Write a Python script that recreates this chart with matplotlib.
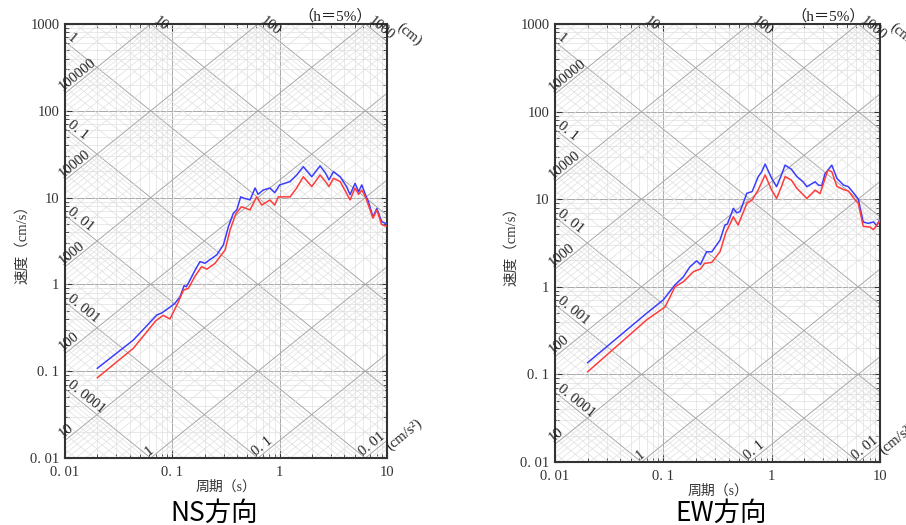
import numpy as np
import matplotlib.pyplot as plt

# NS方向: 周期 (s) / 速度 (cm/s)
ns_blue_T = [0.02, 0.0434, 0.0716, 0.08, 0.0918, 0.105, 0.118, 0.1285, 0.135, 0.145,
             0.157, 0.17, 0.181, 0.2017, 0.22, 0.241, 0.26, 0.299, 0.333, 0.37,
             0.398, 0.434, 0.47, 0.53, 0.59, 0.63, 0.70, 0.81, 0.90, 1.0,
             1.25, 1.44, 1.66, 1.99, 2.38, 2.68, 2.88, 3.17, 3.66, 4.2,
             4.53, 5.04, 5.44, 5.82, 6.3, 6.7, 7.4, 8.06, 8.9, 9.8, 10]
ns_blue_sv = [0.108, 0.229, 0.443, 0.47, 0.53, 0.6, 0.72, 0.966, 0.94, 1.1,
              1.34, 1.6, 1.83, 1.75, 1.9, 2.05, 2.2, 2.85, 4.63, 6.6,
              7.2, 10.2, 9.8, 9.4, 12.9, 10.9, 12.2, 12.9, 11.4, 14.0,
              15.3, 18.2, 22.7, 17.4, 23.2, 19.1, 16.0, 19.9, 17.4, 13.4,
              10.8, 14.6, 11.7, 14.0, 10.8, 9.0, 6.0, 7.5, 5.3, 5.0, 5.0]
ns_red_T = [0.02, 0.0434, 0.07, 0.082, 0.095, 0.114, 0.127, 0.141, 0.162, 0.187,
            0.21, 0.25, 0.31, 0.345, 0.39, 0.44, 0.53, 0.61, 0.68, 0.81,
            0.90, 0.97, 1.25, 1.44, 1.66, 1.99, 2.38, 2.75, 2.88, 3.17,
            3.66, 4.2, 4.53, 5.04, 5.44, 5.82, 6.3, 7.4, 8.06, 8.9, 9.8, 10]
ns_red_sv = [0.084, 0.184, 0.38, 0.44, 0.40, 0.63, 0.86, 0.9, 1.23, 1.6,
             1.5, 1.75, 2.49, 4.24, 6.5, 7.85, 7.2, 10.2, 8.2, 9.4,
             8.2, 10.2, 10.2, 12.9, 17.4, 13.4, 18.2, 14.6, 13.4, 16.7,
             15.3, 11.2, 9.4, 12.9, 10.9, 12.2, 10.2, 5.8, 7.2, 4.9, 4.7, 4.7]

# EW方向
ew_blue_T = [0.02, 0.0703, 0.1, 0.128, 0.153, 0.176, 0.203, 0.22, 0.251, 0.28,
             0.334, 0.37, 0.39, 0.443, 0.475, 0.51, 0.59, 0.66, 0.75, 0.81,
             0.87, 1.0, 1.11, 1.23, 1.33, 1.52, 1.71, 1.95, 2.11, 2.52,
             2.7, 2.9, 3.1, 3.59, 4.0, 4.6, 5.1, 5.9, 6.3, 7.0,
             7.8, 8.7, 9.3, 10]
ew_blue_sv = [0.136, 0.50, 0.71, 1.05, 1.30, 1.69, 1.98, 1.8, 2.52, 2.5,
              3.42, 5.07, 5.2, 7.87, 7.0, 7.2, 11.7, 12.2, 18.0, 20.6,
              25.2, 17.3, 13.9, 18.9, 24.5, 22.0, 18.1, 15.8, 13.9, 15.8,
              14.5, 14.3, 19.4, 24.5, 17.3, 14.5, 13.9, 11.2, 10.0, 5.5,
              5.3, 5.5, 5.0, 5.9]
ew_red_T = [0.02, 0.0703, 0.104, 0.128, 0.153, 0.19, 0.22, 0.24, 0.28, 0.334,
            0.38, 0.40, 0.443, 0.49, 0.59, 0.66, 0.75, 0.87, 1.0, 1.11,
            1.23, 1.33, 1.52, 1.71, 2.11, 2.52, 2.8, 3.3, 3.59, 4.0,
            4.6, 5.1, 5.9, 6.3, 7.0, 8.1, 8.7, 9.3, 10]
ew_red_sv = [0.107, 0.42, 0.59, 1.0, 1.14, 1.49, 1.6, 1.85, 1.9, 2.52,
             4.26, 4.8, 6.3, 5.07, 8.97, 9.8, 12.7, 18.9, 12.7, 10.2,
             13.9, 18.1, 16.5, 13.3, 10.2, 12.7, 11.6, 21.5, 20.6, 14.0,
             12.9, 12.4, 9.8, 9.0, 4.9, 4.8, 4.5, 5.0, 5.7]

x_ticks = [0.01, 0.1, 1, 10]
y_ticks = [0.01, 0.1, 1, 10, 100, 1000]
disp_left = [1, 0.1, 0.01, 0.001, 0.0001]      # cm
disp_top = [10, 100, 1000]
acc_left = [100000, 10000, 1000, 100, 10]      # cm/s2
acc_bottom = [1, 0.1, 0.01]

panel_titles = ["NS方向", "EW方向"]

plt.rcParams['font.family'] = ['Liberation Serif', 'Noto Sans CJK JP', 'DejaVu Sans']


def lab(v):
    return f"{v:g}".replace(".", ". ")


def panel(ax, curves):
    ax.set_xscale('log')
    ax.set_yscale('log')
    ax.set_xlim(0.01, 10)
    ax.set_ylim(0.01, 1000)

    ax.grid(which='major', color='#a8a8a8', lw=0.7)
    ax.grid(which='minor', color='#e0e0e0', lw=0.5)
    ax.set_axisbelow(True)

    # tripartite lines
    T = np.array([0.001, 100.0])
    for dec in range(-7, 7):
        for m in range(1, 10):
            v = m * 10.0 ** dec
            major = m == 1
            c = '#a8a8a8' if major else '#e0e0e0'
            lw = 0.7 if major else 0.5
            ax.plot(T, 2 * np.pi * v / T, color=c, lw=lw, zorder=0.6)
            ax.plot(T, v * T / (2 * np.pi), color=c, lw=lw, zorder=0.6)

    for T_, sv, col in curves:
        ax.plot(T_, sv, color=col, lw=1.1, zorder=3)

    ax.set_xticks(x_ticks, [lab(v) for v in x_ticks])
    ax.set_yticks(y_ticks, [lab(v) for v in y_ticks])
    ax.tick_params(which='both', direction='in', top=True, right=True,
                   colors='#333333', labelsize=10.5)
    ax.tick_params(which='major', length=5)
    ax.tick_params(which='minor', length=3)
    ax.tick_params(axis='x', pad=6)
    ax.tick_params(axis='y', pad=4)
    for s in ax.spines.values():
        s.set_color('#333333')
        s.set_linewidth(1.5)

    # rotation of diagonal labels in screen space
    bb = ax.get_window_extent()
    ang = np.degrees(np.arctan((bb.height / 5) / (bb.width / 3)))
    kw = dict(ha='left', va='bottom', rotation_mode='anchor', fontsize=10.5,
              color='#222222', clip_on=False, zorder=4)
    for d in disp_left:
        ax.text(0.01, 2 * np.pi * d / 0.01, lab(d), rotation=-ang, **kw)
    for d in disp_top:
        ax.text(2 * np.pi * d / 1000, 1000, lab(d), rotation=-ang, **kw)
    for a in acc_left:
        ax.text(0.01, a * 0.01 / (2 * np.pi), lab(a), rotation=ang, **kw)
    for a in acc_bottom:
        ax.text(2 * np.pi * 0.01 / a, 0.01, lab(a), rotation=ang, **kw)
    ax.text(1.022, 0.984, "(cm)", transform=ax.transAxes, rotation=-ang, **kw)
    ax.text(1.016, 0.012, "(cm/s²)", transform=ax.transAxes, rotation=ang, **kw)
    ax.text(0.953, 1.0, "（h＝5%）", transform=ax.transAxes, ha='right', va='bottom',
            fontsize=11, color='#222222')

    ax.text(-0.134, 0.5, "速度（cm/s）", transform=ax.transAxes, rotation=90,
            ha='center', va='center', fontsize=10.5, color='#333333')
    ax.text(0.5, -0.066, "周期（s）", transform=ax.transAxes,
            ha='center', va='center', fontsize=10, color='#333333')


fig = plt.figure(figsize=(9.06, 5.25), dpi=100)
ax1 = fig.add_axes([65 / 906, 67 / 525, 322 / 906, 434 / 525])
ax2 = fig.add_axes([555 / 906, 63 / 525, 325 / 906, 438 / 525])

panel(ax1, [(ns_blue_T, ns_blue_sv, '#3c3cff'), (ns_red_T, ns_red_sv, '#ff3c3c')])
panel(ax2, [(ew_blue_T, ew_blue_sv, '#3c3cff'), (ew_red_T, ew_red_sv, '#ff3c3c')])

fig.text(214 / 906, 1 - 513 / 525, panel_titles[0], ha='center', va='center',
         fontsize=19, family='Noto Sans CJK JP')
fig.text(721 / 906, 1 - 513 / 525, panel_titles[1], ha='center', va='center',
         fontsize=19, family='Noto Sans CJK JP')

fig.savefig('out.png', dpi=100)
